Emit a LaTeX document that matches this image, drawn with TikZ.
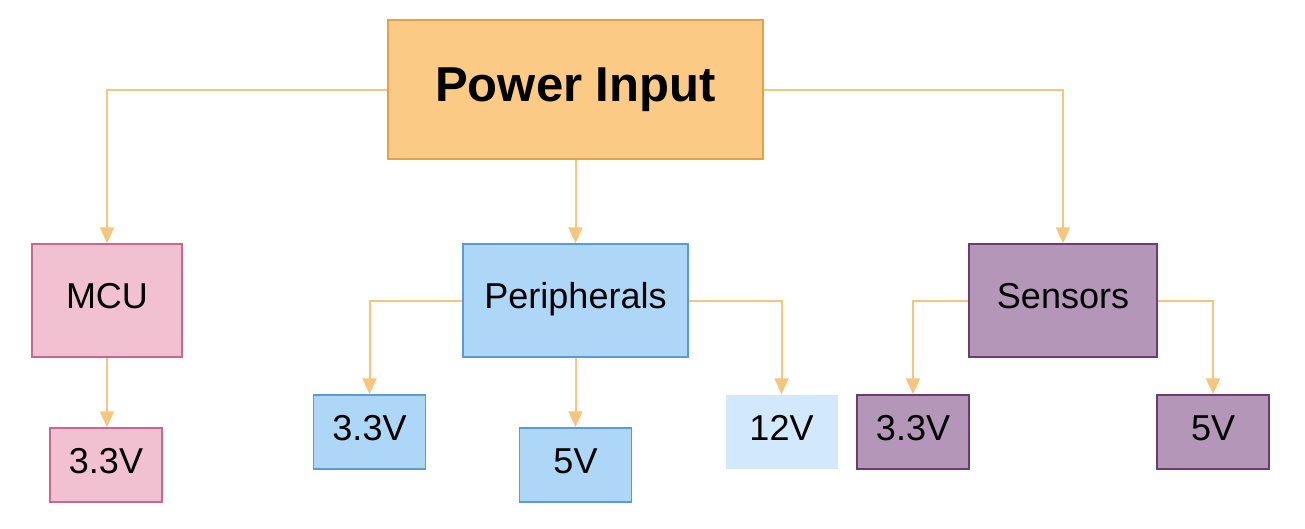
\documentclass[tikz,border=0pt]{standalone}
\usepackage{fontspec}
\setmainfont{Liberation Sans}
\usetikzlibrary{arrows.meta}
\definecolor{orfill}{HTML}{FBCB86}
\definecolor{ordraw}{HTML}{E3A24A}
\definecolor{pkfill}{HTML}{F2C1D1}
\definecolor{pkdraw}{HTML}{C9678E}
\definecolor{blfill}{HTML}{AED6F6}
\definecolor{bldraw}{HTML}{5B9BD5}
\definecolor{ltfill}{HTML}{D2E9FB}
\definecolor{pufill}{HTML}{B396B8}
\definecolor{pudraw}{HTML}{6B3B72}
\definecolor{edge}{HTML}{F7C57C}
\tikzset{
  box/.style={rectangle, line width=1.5pt, inner sep=0pt, text height=26pt, text depth=10pt, font=\fontsize{36}{40}\selectfont},
  pwr/.style={box, fill=orfill, draw=ordraw, minimum width=375pt, minimum height=139pt, text height=35pt, text depth=12pt, font=\fontsize{49}{54}\selectfont\bfseries},
  pk/.style={box, fill=pkfill, draw=pkdraw},
  bl/.style={box, fill=blfill, draw=bldraw},
  lt/.style={box, fill=ltfill},
  pu/.style={box, fill=pufill, draw=pudraw},
  big/.style={minimum height=113pt},
  small/.style={minimum width=112pt, minimum height=74pt},
  conn/.style={draw=edge, line width=2pt, -{Triangle[width=14pt,length=16pt,fill=edge]}},
}
\begin{document}
\begin{tikzpicture}[x=1pt,y=-1pt]
\useasboundingbox (0,0) rectangle (1305,528);
\node[pwr] (pwr) at (575.5,89.5) {Power Input};
\node[pk,big,minimum width=150pt] (mcu) at (107,300.5) {MCU};
\node[pk,small] (mcu3) at (106,465) {3.3V};
\node[bl,big,minimum width=225pt] (per) at (575.5,300.5) {Peripherals};
\node[bl,small] (p3) at (369.5,432) {3.3V};
\node[bl,small] (p5) at (575.5,465) {5V};
\node[lt,small] (p12) at (781.5,432) {12V};
\node[pu,big,minimum width=188pt] (sen) at (1063,300.5) {Sensors};
\node[pu,small] (s3) at (913,432) {3.3V};
\node[pu,small] (s5) at (1213,432) {5V};
\draw[conn] (pwr.west) -| (mcu.north);
\draw[conn] (pwr.south) -- (per.north);
\draw[conn] (pwr.east) -| (sen.north);
\draw[conn] (mcu.south) -- (mcu.south |- mcu3.north);
\draw[conn] (per.west) -| (p3.north);
\draw[conn] (per.south) -- (p5.north);
\draw[conn] (per.east) -| (p12.north);
\draw[conn] (sen.west) -| (s3.north);
\draw[conn] (sen.east) -| (s5.north);
\end{tikzpicture}
\end{document}
